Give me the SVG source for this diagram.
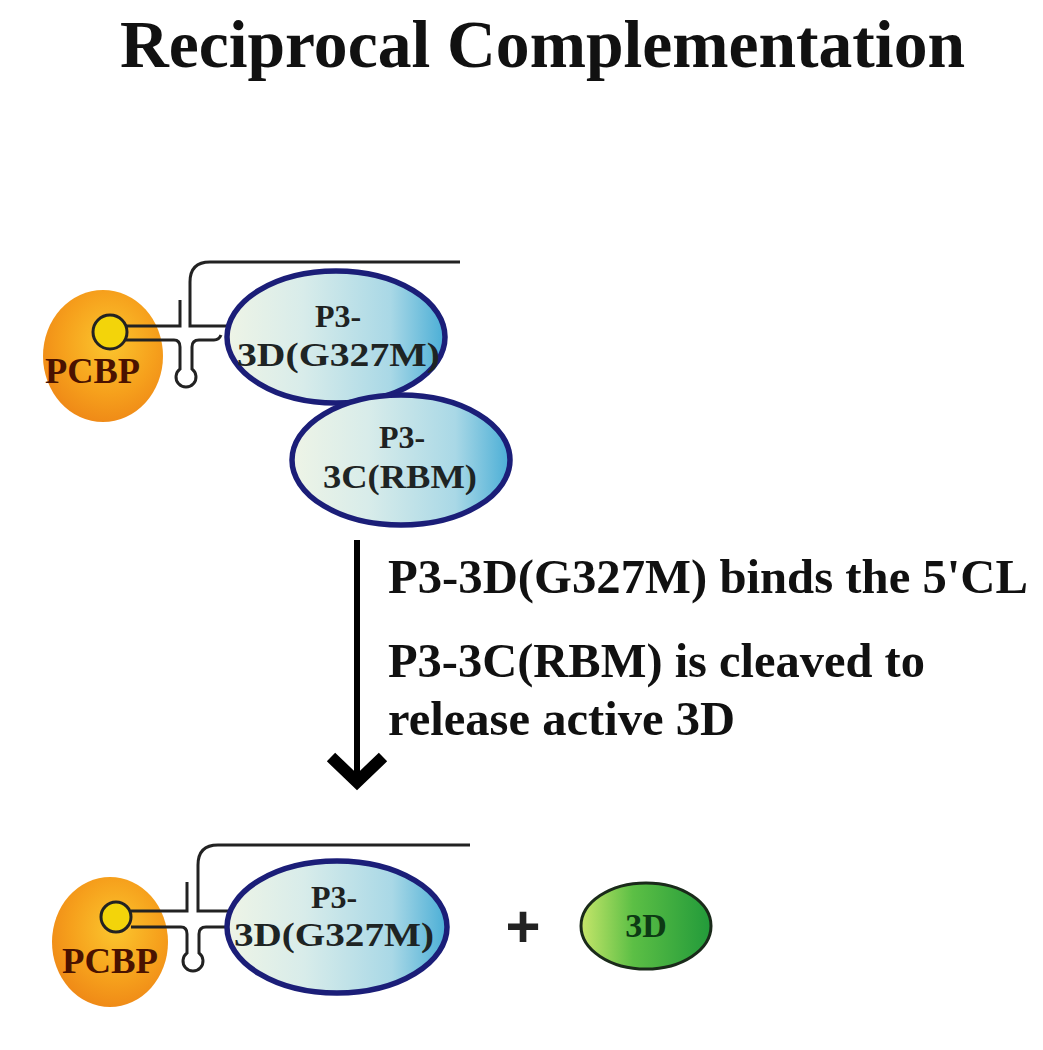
<svg xmlns="http://www.w3.org/2000/svg" width="1043" height="1050" viewBox="0 0 1043 1050">
<defs>
<radialGradient id="gOrange" cx="0.55" cy="0.4" r="0.65">
<stop offset="0" stop-color="#fbc62e"/>
<stop offset="0.6" stop-color="#f6a01c"/>
<stop offset="1" stop-color="#ee8616"/>
</radialGradient>
<linearGradient id="gBlue" x1="0" y1="0" x2="1" y2="0">
<stop offset="0" stop-color="#eef4e6"/>
<stop offset="0.35" stop-color="#d8ecea"/>
<stop offset="0.75" stop-color="#a9d8e6"/>
<stop offset="1" stop-color="#4aaed6"/>
</linearGradient>
<linearGradient id="gGreen" x1="0" y1="0" x2="1" y2="0">
<stop offset="0" stop-color="#c6e66a"/>
<stop offset="0.4" stop-color="#5cbf45"/>
<stop offset="1" stop-color="#229a3a"/>
</linearGradient>
</defs>
<style>
.title{font-family:"Liberation Serif","Times New Roman",serif;font-weight:bold;font-size:67px;fill:#111}
.lbl{font-family:"Liberation Serif","Times New Roman",serif;font-weight:bold;font-size:48.5px;fill:#111}
.pcbp{font-family:"Liberation Serif","Times New Roman",serif;font-weight:bold;font-size:36px;fill:#4a1200}
.p3{font-family:"Liberation Serif","Times New Roman",serif;font-weight:bold;font-size:32px;fill:#1e2222}
.p3b{font-family:"Liberation Serif","Times New Roman",serif;font-weight:bold;font-size:34px;fill:#1e2424}
.d3{font-family:"Liberation Serif","Times New Roman",serif;font-weight:bold;font-size:34px;fill:#0d3a14}
.rna{fill:none;stroke:#222;stroke-width:3}
.loop{fill:#f3d40a;stroke:#222;stroke-width:3}
.prot{fill:url(#gBlue);stroke:#1b1e78;stroke-width:5.5}
.orange{fill:url(#gOrange)}
.arrow{fill:none;stroke:#000}
</style>
<rect width="1043" height="1050" fill="#fff"/>
<text class="title" x="120" y="67" textLength="845" lengthAdjust="spacingAndGlyphs">Reciprocal Complementation</text>

<g id="top-pcbp">
<ellipse class="orange" cx="103" cy="356" rx="60" ry="66"/>
<text class="pcbp" x="45" y="383" textLength="95" lengthAdjust="spacingAndGlyphs">PCBP</text>
</g>
<g id="top-rna">
<circle class="loop" cx="110" cy="332" r="17"/>
<path class="rna" d="M126,326 H180 V300"/>
<path class="rna" d="M460,262 H210 Q190,262 190,282 V326 H229"/>
<path class="rna" d="M126,340 H174 Q180,340 180,347 V369 A10 10 0 1 0 192,369 V347 Q192,340 199,340 H214 Q219,340 221,335"/>
</g>
<g id="top-p3-3d">
<ellipse class="prot" cx="336" cy="337" rx="109" ry="66"/>
<text class="p3" x="338" y="327" text-anchor="middle">P3-</text>
<text class="p3b" x="237" y="366" textLength="203" lengthAdjust="spacingAndGlyphs">3D(G327M)</text>
</g>
<g id="top-p3-3c">
<ellipse class="prot" cx="401" cy="460" rx="109" ry="65"/>
<text class="p3" x="402" y="448" text-anchor="middle">P3-</text>
<text class="p3b" x="323" y="488" textLength="154" lengthAdjust="spacingAndGlyphs">3C(RBM)</text>
</g>

<g id="connectors">
<line class="arrow" x1="357" y1="540" x2="357" y2="778" stroke-width="6"/>
<polyline class="arrow" points="331,757 357,782 383,757" stroke-width="12"/>
</g>

<g id="step-labels">
<text class="lbl" x="388" y="593" textLength="640" lengthAdjust="spacingAndGlyphs">P3-3D(G327M) binds the 5'CL</text>
<text class="lbl" x="388" y="677" textLength="537" lengthAdjust="spacingAndGlyphs">P3-3C(RBM) is cleaved to</text>
<text class="lbl" x="388" y="735" textLength="347" lengthAdjust="spacingAndGlyphs">release active 3D</text>
</g>

<g id="bottom-pcbp">
<ellipse class="orange" cx="110" cy="942" rx="58" ry="65"/>
<text class="pcbp" x="62" y="973" textLength="96" lengthAdjust="spacingAndGlyphs">PCBP</text>
</g>
<g id="bottom-rna">
<circle class="loop" cx="116" cy="917" r="15"/>
<path class="rna" d="M131,911 H187 V882"/>
<path class="rna" d="M470,845 H218 Q198,845 198,865 V911 H229"/>
<path class="rna" d="M131,927 H181 Q187,927 187,934 V953 A10 10 0 1 0 199,953 V934 Q199,927 206,927 H229"/>
</g>
<g id="bottom-p3-3d">
<ellipse class="prot" cx="337" cy="927" rx="110" ry="66"/>
<text class="p3" x="334" y="908" text-anchor="middle">P3-</text>
<text class="p3b" x="234" y="946" textLength="200" lengthAdjust="spacingAndGlyphs">3D(G327M)</text>
</g>
<g id="plus">
<text x="523" y="947" text-anchor="middle" style="font-family:'Liberation Sans',Arial,sans-serif;font-weight:bold;font-size:60px;fill:#222">+</text>
</g>
<g id="free-3d">
<ellipse cx="646" cy="926" rx="65" ry="43" fill="url(#gGreen)" stroke="#1a2a1a" stroke-width="3"/>
<text class="d3" x="646" y="937" text-anchor="middle">3D</text>
</g>
</svg>
